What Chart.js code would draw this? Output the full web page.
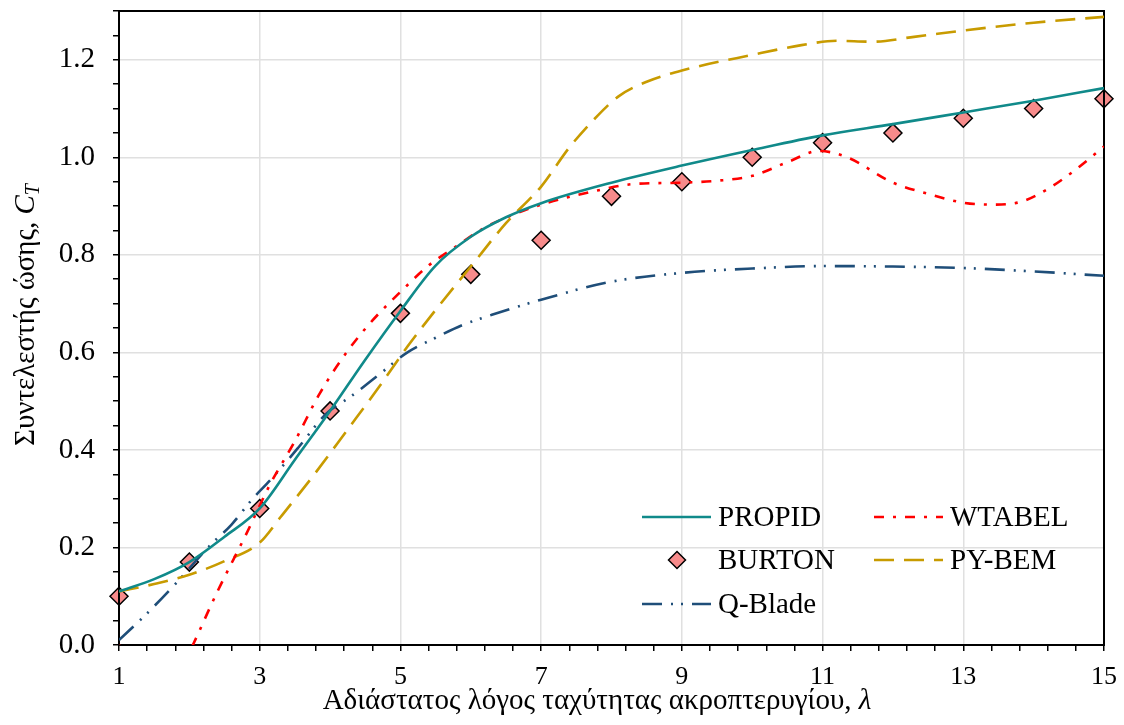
<!DOCTYPE html>
<html>
<head>
<meta charset="utf-8">
<script src="https://cdn.jsdelivr.net/npm/chart.js@4.4.0/dist/chart.umd.min.js"></script>
<style>
  body { margin: 0; background: #fff; }
</style>
</head>
<body>
<canvas id="myChart" width="1124" height="725"></canvas>
<script>
// tip speed ratio λ and thrust coefficient C_T per method
const propidX = [1, 1.5, 2, 2.5, 3, 3.5, 4, 4.5, 5, 5.5, 6, 6.5, 7, 8, 9, 10, 11, 12, 13, 14, 15];
const propidY = [0.11, 0.135, 0.17, 0.222, 0.28, 0.38, 0.48, 0.585, 0.685, 0.778, 0.837, 0.877, 0.906, 0.948, 0.983, 1.015, 1.045, 1.068, 1.092, 1.116, 1.142];

const burtonX = [1, 2, 3, 4, 5, 6, 7, 8, 9, 10, 11, 12, 13, 14, 15];
const burtonY = [0.10, 0.17, 0.28, 0.48, 0.68, 0.76, 0.83, 0.92, 0.95, 1.00, 1.03, 1.05, 1.08, 1.10, 1.12];

const qbladeX = [1, 1.4, 1.8, 2.3, 2.6, 2.9, 3.15, 3.55, 3.95, 4.3, 4.7, 5.1, 5.5, 5.9, 6.3, 7, 8, 9, 10, 11, 12, 13, 14, 15];
const qbladeY = [0.01, 0.065, 0.125, 0.205, 0.247, 0.3, 0.338, 0.405, 0.475, 0.51, 0.555, 0.6, 0.63, 0.657, 0.677, 0.708, 0.745, 0.763, 0.772, 0.777, 0.776, 0.773, 0.766, 0.757];

const wtabelX = [1, 1.3, 1.6, 1.85, 2.05, 2.4, 2.8, 3.15, 3.5, 3.85, 4.25, 4.6, 5, 5.4, 5.8, 6.2, 6.6, 7, 7.8, 8.3, 9, 9.5, 10, 10.5, 10.95, 11.35, 12, 12.5, 13, 13.4, 13.8, 14.2, 14.6, 15];
const wtabelY = [0, -0.07, -0.1, -0.06, 0, 0.11, 0.225, 0.33, 0.418, 0.515, 0.603, 0.665, 0.724, 0.778, 0.818, 0.856, 0.882, 0.903, 0.932, 0.945, 0.948, 0.952, 0.962, 0.99, 1.013, 1.0, 0.948, 0.925, 0.907, 0.903, 0.908, 0.935, 0.975, 1.022];

const pybemX = [1, 1.5, 2, 2.5, 3, 3.3, 3.75, 4.25, 4.7, 5.1, 5.5, 6, 6.5, 7, 7.4, 7.8, 8.1, 8.5, 9, 10, 10.7, 11.2, 11.7, 12.3, 13, 14, 15];
const pybemY = [0.11, 0.125, 0.144, 0.172, 0.21, 0.263, 0.345, 0.442, 0.53, 0.612, 0.687, 0.776, 0.865, 0.94, 1.02, 1.085, 1.125, 1.155, 1.178, 1.21, 1.23, 1.239, 1.237, 1.247, 1.26, 1.276, 1.288];

const xLabelTicks = [1, 3, 5, 7, 9, 11, 13, 15];
const yLabelTicks = [0.0, 0.2, 0.4, 0.6, 0.8, 1.0, 1.2];

const xTitle = 'Αδιάστατος λόγος ταχύτητας ακροπτερυγίου, ';
const yTitle = 'Συντελεστής ώσης, ';

const serif = '"Liberation Serif", "Times New Roman", serif';

const pts = (xs, ys) => xs.map((x, i) => ({ x, y: ys[i] }));
const near = (v, list) => list.some(t => Math.abs(t - v) < 1e-6);

// legend entries: column, row
const legendItems = [
  { index: 0, col: 0, row: 0 },
  { index: 1, col: 0, row: 1 },
  { index: 2, col: 0, row: 2 },
  { index: 3, col: 1, row: 0 },
  { index: 4, col: 1, row: 1 }
];

function diamond(ctx, x, y, r) {
  ctx.beginPath();
  ctx.moveTo(x, y - r);
  ctx.lineTo(x + r, y);
  ctx.lineTo(x, y + r);
  ctx.lineTo(x - r, y);
  ctx.closePath();
  ctx.fill();
  ctx.stroke();
}

// no extra room for edge labels, the plot box is fixed
const noPad = scale => {
  scale.paddingTop = 0;
  scale.paddingBottom = 0;
  scale.paddingLeft = 0;
  scale.paddingRight = 0;
};

const decorations = {
  id: 'decorations',
  // frame goes above the markers but under the curves
  afterDatasetDraw(chart, args) {
    if (args.index !== 1) return;
    const { ctx, chartArea: a } = chart;
    ctx.save();
    ctx.strokeStyle = '#000';
    ctx.lineWidth = 2;
    ctx.strokeRect(a.left, a.top, a.right - a.left, a.bottom - a.top);
    ctx.restore();
  },
  afterDraw(chart) {
    const { ctx } = chart;
    ctx.save();
    ctx.fillStyle = '#000';
    ctx.textBaseline = 'alphabetic';

    // x axis title
    ctx.font = '29px ' + serif;
    const w1 = ctx.measureText(xTitle).width;
    ctx.font = 'italic 29px ' + serif;
    const w2 = ctx.measureText('λ').width;
    const x = 597 - (w1 + w2) / 2;
    ctx.font = '29px ' + serif;
    ctx.fillText(xTitle, x, 709);
    ctx.font = 'italic 29px ' + serif;
    ctx.fillText('λ', x + w1, 709);

    // y axis title, rotated
    ctx.save();
    ctx.translate(34, 315);
    ctx.rotate(-Math.PI / 2);
    ctx.font = '29px ' + serif;
    const v1 = ctx.measureText(yTitle).width;
    ctx.font = 'italic 29px ' + serif;
    const v2 = ctx.measureText('C').width;
    ctx.font = 'italic 20px ' + serif;
    const v3 = ctx.measureText('T').width;
    const s = -(v1 + v2 + v3) / 2;
    ctx.font = '29px ' + serif;
    ctx.fillText(yTitle, s, 0);
    ctx.font = 'italic 29px ' + serif;
    ctx.fillText('C', s + v1, 0);
    ctx.font = 'italic 20px ' + serif;
    ctx.fillText('T', s + v1 + v2, 5);
    ctx.restore();

    // legend
    const colX = [642, 874];
    const rowY = [517, 560, 604];
    legendItems.forEach(item => {
      const ds = chart.data.datasets[item.index];
      const lx = colX[item.col];
      const ly = rowY[item.row];
      if (ds.showLine === false) {
        ctx.fillStyle = ds.pointBackgroundColor;
        ctx.strokeStyle = ds.pointBorderColor;
        ctx.lineWidth = 1.5;
        ctx.setLineDash([]);
        diamond(ctx, lx + 35, ly, 8.5);
      } else {
        ctx.strokeStyle = ds.borderColor;
        ctx.lineWidth = ds.borderWidth;
        ctx.setLineDash(ds.borderDash || []);
        ctx.beginPath();
        ctx.moveTo(lx, ly);
        ctx.lineTo(lx + 69, ly);
        ctx.stroke();
      }
      ctx.setLineDash([]);
      ctx.fillStyle = '#000';
      ctx.font = '29px ' + serif;
      ctx.fillText(ds.label, lx + 76, ly + 9);
    });
    ctx.restore();
  }
};

new Chart(document.getElementById('myChart'), {
  type: 'line',
  data: {
    datasets: [
      {
        label: 'PROPID',
        data: pts(propidX, propidY),
        borderColor: '#108a8a',
        borderWidth: 2.6,
        pointRadius: 0,
        cubicInterpolationMode: 'monotone',
        order: 1
      },
      {
        label: 'BURTON',
        data: pts(burtonX, burtonY),
        showLine: false,
        pointStyle: 'rectRot',
        pointRadius: 9,
        pointBackgroundColor: '#f78b8b',
        pointBorderColor: '#000',
        pointBorderWidth: 1.5,
        clip: false,
        order: 10
      },
      {
        label: 'Q-Blade',
        data: pts(qbladeX, qbladeY),
        borderColor: '#1f4e79',
        borderWidth: 2.6,
        borderDash: [20, 9, 2, 8, 2, 9],
        pointRadius: 0,
        cubicInterpolationMode: 'monotone',
        order: 4
      },
      {
        label: 'WTABEL',
        data: pts(wtabelX, wtabelY),
        borderColor: '#ff0000',
        borderWidth: 2.6,
        borderDash: [10, 9, 3, 9],
        pointRadius: 0,
        cubicInterpolationMode: 'monotone',
        order: 2
      },
      {
        label: 'PY-BEM',
        data: pts(pybemX, pybemY),
        borderColor: '#c89b00',
        borderWidth: 2.6,
        borderDash: [20, 10],
        pointRadius: 0,
        cubicInterpolationMode: 'monotone',
        order: 3
      }
    ]
  },
  options: {
    responsive: false,
    animation: false,
    events: [],
    layout: { padding: { left: 0, top: 11, right: 20, bottom: 0 } },
    scales: {
      x: {
        type: 'linear',
        min: 1,
        max: 15,
        afterBuildTicks: scale => {
          scale.ticks = Array.from({ length: 36 }, (_, i) => ({ value: 1 + i * 0.4 }));
        },
        afterFit: scale => { scale.height = 80; noPad(scale); },
        border: { display: false },
        grid: {
          color: c => (c.tick && near(c.tick.value, xLabelTicks)) ? '#e0e0e0' : 'rgba(0,0,0,0)',
          lineWidth: 1.5,
          tickColor: '#000',
          tickWidth: 1.5,
          tickLength: 6
        },
        ticks: {
          autoSkip: false,
          maxRotation: 0,
          minRotation: 0,
          padding: 11,
          color: '#000',
          font: { family: serif, size: 26 },
          callback: v => near(v, xLabelTicks) ? String(Math.round(v)) : ''
        }
      },
      y: {
        min: 0,
        max: 1.3,
        afterBuildTicks: scale => {
          scale.ticks = Array.from({ length: 27 }, (_, i) => ({ value: i * 0.05 }));
        },
        afterFit: scale => { scale.width = 119; noPad(scale); },
        border: { display: false },
        grid: {
          color: c => (c.tick && near(c.tick.value, yLabelTicks)) ? '#e0e0e0' : 'rgba(0,0,0,0)',
          lineWidth: 1.5,
          tickColor: '#000',
          tickWidth: 1.5,
          tickLength: 6
        },
        ticks: {
          autoSkip: false,
          padding: 18,
          color: '#000',
          font: { family: serif, size: 29 },
          callback: v => near(v, yLabelTicks) ? v.toFixed(1) : ''
        }
      }
    },
    plugins: {
      legend: { display: false },
      tooltip: { enabled: false }
    }
  },
  plugins: [decorations]
});
</script>
</body>
</html>
